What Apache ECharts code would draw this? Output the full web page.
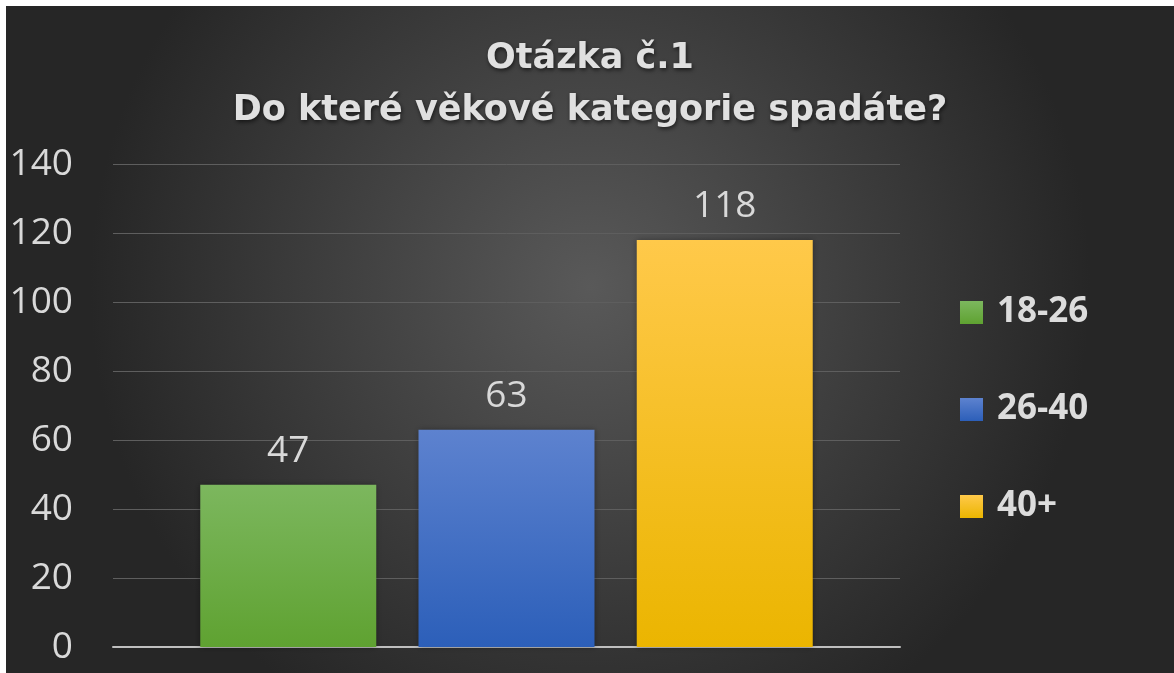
<!DOCTYPE html>
<html>
<head>
<meta charset="utf-8">
<script src="https://cdn.jsdelivr.net/npm/echarts@6/dist/echarts.min.js"></script>
<style>
  html, body { margin: 0; padding: 0; background: #ffffff; }
  #chart { position: absolute; left: 6px; top: 6px; width: 1168px; height: 667px; }
</style>
</head>
<body>
<div id="chart"></div>
<script>
// data
var titleLines = ['Otázka č.1', 'Do které věkové kategorie spadáte?'];
var categories = ['Věk'];
var groups = ['18-26', '26-40', '40+'];
var counts = [47, 63, 118];
var yTicks = { min: 0, max: 140, step: 20 };

var colors = [
  ['#7cb75e', '#5fa231'],
  ['#5d82cf', '#2c5fb9'],
  ['#ffc94a', '#ebb500']
];

var chart = echarts.init(document.getElementById('chart'));

var series = groups.map(function (name, i) {
  return {
    name: name,
    type: 'bar',
    data: [counts[i]],
    barWidth: 176,
    barGap: '24%',
    itemStyle: {
      color: {
        type: 'linear', x: 0, y: 0, x2: 0, y2: 1,
        colorStops: [
          { offset: 0, color: colors[i][0] },
          { offset: 1, color: colors[i][1] }
        ]
      },
      shadowColor: 'rgba(0,0,0,0.35)',
      shadowBlur: 6
    },
    label: {
      show: true,
      position: 'top',
      distance: 15,
      color: '#d9d9d9',
      fontSize: 37,
      fontFamily: 'Open Sans'
    }
  };
});

var option = {
  backgroundColor: {
    type: 'radial', x: 0.5, y: 0.42, r: 0.75,
    colorStops: [
      { offset: 0, color: '#595959' },
      { offset: 1, color: '#262626' }
    ]
  },
  title: {
    text: titleLines.join('\n'),
    left: 'center',
    top: 22,
    textStyle: {
      color: '#e0e0e0',
      fontSize: 35,
      fontWeight: 'bold',
      fontFamily: 'DejaVu Sans',
      lineHeight: 52,
      textShadowColor: 'rgba(0,0,0,0.6)',
      textShadowBlur: 4,
      textShadowOffsetX: 1,
      textShadowOffsetY: 2
    }
  },
  legend: {
    orient: 'vertical',
    left: 949,
    top: 284,
    itemWidth: 23,
    itemHeight: 23,
    itemGap: 62,
    icon: 'rect',
    textStyle: {
      color: '#dcdcdc',
      fontSize: 35,
      fontWeight: 'bold',
      fontFamily: 'Open Sans',
      padding: [0, 0, 0, 9]
    }
  },
  grid: { left: 107, right: 274, top: 158, bottom: 26, containLabel: false },
  xAxis: {
    type: 'category',
    data: categories,
    axisLine: { lineStyle: { color: '#bfbfbf', width: 2 } },
    axisTick: { show: false },
    axisLabel: { show: false }
  },
  yAxis: {
    type: 'value',
    min: yTicks.min,
    max: yTicks.max,
    interval: yTicks.step,
    axisLine: { show: false },
    axisTick: { show: false },
    axisLabel: {
      margin: 40,
      color: '#d9d9d9',
      fontSize: 37,
      fontFamily: 'Open Sans'
    },
    splitLine: { lineStyle: { color: '#5e5e5e', width: 1 } }
  },
  series: series
};

chart.setOption(option);
</script>
</body>
</html>
